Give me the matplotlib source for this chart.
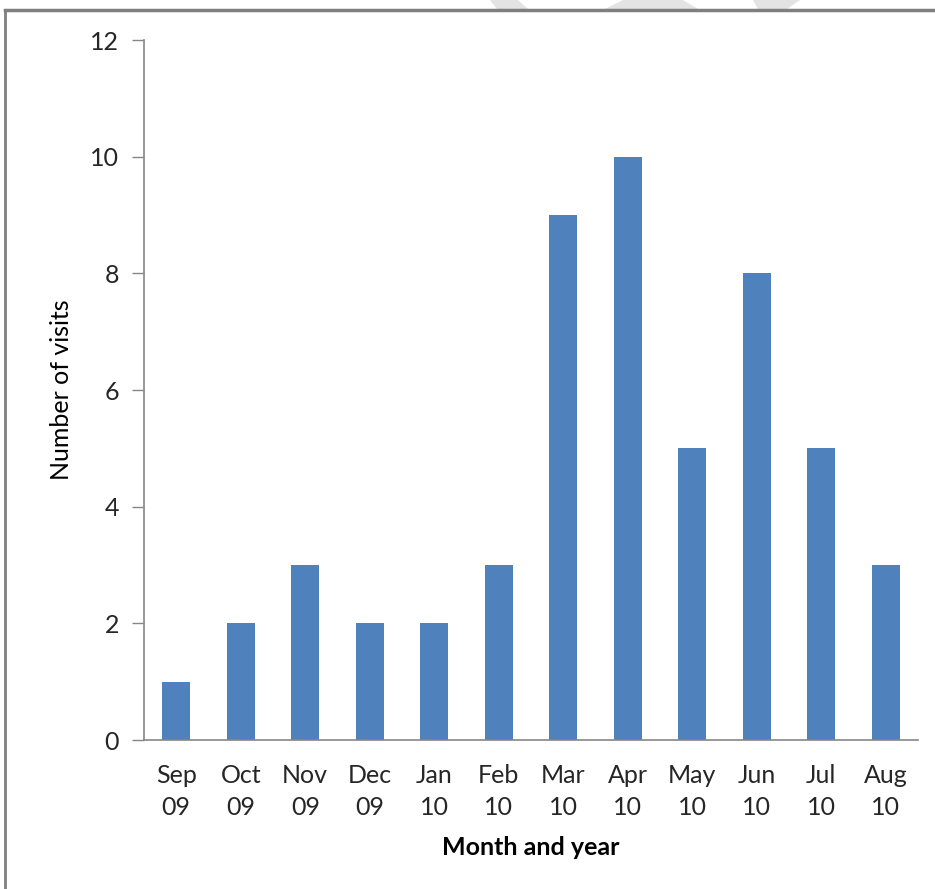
import numpy as np
from matplotlib import pyplot as plt
from matplotlib.patches import Polygon

# monthly visit counts
months = ['Sep\n09', 'Oct\n09', 'Nov\n09', 'Dec\n09', 'Jan\n10', 'Feb\n10',
          'Mar\n10', 'Apr\n10', 'May\n10', 'Jun\n10', 'Jul\n10', 'Aug\n10']
visits = [1, 2, 3, 2, 2, 3, 9, 10, 5, 8, 5, 3]
y_ticks = [0, 2, 4, 6, 8, 10, 12]

plt.rcParams['font.family'] = ['Lato', 'DejaVu Sans']

W, H = 935, 889
fig = plt.figure(figsize=(W / 100, H / 100), dpi=100)
ax = fig.add_axes([144 / W, 1 - 740 / H, 774 / W, 700 / H])

x = np.arange(len(months))
ax.bar(x, visits, width=0.43, color='#4F81BD', zorder=2)

ax.set_xlim(-0.5, len(months) - 0.5)
ax.set_ylim(0, 12)
ax.set_yticks(y_ticks)
ax.set_xticks(x)
ax.set_xticklabels(months, fontsize=18, color='#262626', linespacing=1.5)
ax.tick_params(axis='y', labelsize=18, labelcolor='#262626', length=9,
               width=1, color='#868686', direction='out', pad=9)
ax.tick_params(axis='x', length=0, pad=17)

for side in ['top', 'right']:
    ax.spines[side].set_visible(False)
for side in ['left', 'bottom']:
    ax.spines[side].set_color('#868686')
    ax.spines[side].set_linewidth(1.2)

ax.set_ylabel('Number of visits', fontsize=18, color='#000000', labelpad=12)
ax.set_xlabel('Month and year', fontsize=18, fontweight='bold', labelpad=12)

# outer frame (left and top edges)
fig.add_artist(plt.Line2D([5 / W, 5 / W], [0, 1 - 10 / H], transform=fig.transFigure,
                          color='#7f7f7f', lw=2))
fig.add_artist(plt.Line2D([5 / W, 1], [1 - 10 / H, 1 - 10 / H], transform=fig.transFigure,
                          color='#7f7f7f', lw=2.5))

# faint watermark pieces above the frame
shapes = [
    [(490, 0), (518, 0), (528, 9), (497, 9)],
    [(623, 0), (683, 0), (698, 9), (605, 9)],
    [(753, 0), (800, 0), (787, 9), (758, 9)],
]
for pts in shapes:
    fig.add_artist(Polygon([(px / W, 1 - py / H) for px, py in pts], closed=True,
                           transform=fig.transFigure, facecolor='#e3e3e3',
                           edgecolor='none', zorder=0))

fig.savefig('out.png', dpi=100)
